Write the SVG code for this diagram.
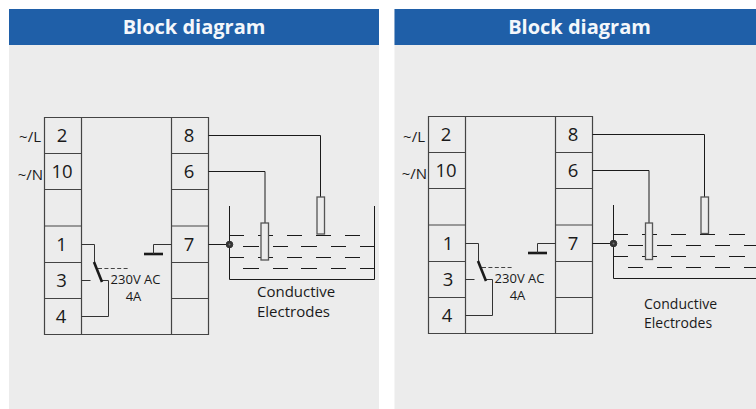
<svg xmlns="http://www.w3.org/2000/svg" xmlns:xlink="http://www.w3.org/1999/xlink" width="756" height="409" viewBox="0 0 756 409">
<style>
text{font-family:"Open Sans","Noto Sans","Liberation Sans",sans-serif;fill:#1a1a1a}
.panel{fill:#ececec}
.head{fill:#1f5fa8}
.title{font-size:20px;font-weight:700;fill:#f4f7fb;text-anchor:middle}
.num{font-size:18.500px;text-anchor:middle}
.lab{font-size:15px;text-anchor:end}
.small{font-size:13px;text-anchor:middle}
.cap{font-size:15px}
.cap2{font-size:14px}
.box{fill:none;stroke:#444;stroke-width:1.2}
.l{fill:none;stroke:#1a1a1a;stroke-width:1}
.g{fill:none;stroke:#333;stroke-width:1}
.th{fill:none;stroke:#1a1a1a;stroke-width:2.600}
.d{fill:none;stroke:#444;stroke-width:1;stroke-dasharray:4 2.400}
.e{fill:#ececec;stroke:#555;stroke-width:1.300}
.n{fill:#333;stroke:#333;stroke-width:1}
.c{fill:#777}
</style>
<defs>
<g id="base">
<path class="box" d="M44.500 117.500H208.500V334.500H44.500ZM81.500 117.500V334.500M171.500 117.500V334.500"/>
<path class="box" d="M44.500 153.500H81.500M44.500 189.500H81.500M44.500 226H81.500M44.500 262.500H81.500M44.500 298.500H81.500M171.500 153.500H208.500M171.500 189.500H208.500M171.500 226H208.500M171.500 262.500H208.500M171.500 298.500H208.500"/>
<text class="num" x="189" y="142">8</text>
<text class="num" x="189" y="178">6</text>
<text class="num" x="189" y="251">7</text>
<text class="small" x="135.500" y="284">230V AC</text>
<text class="small" x="133.500" y="301">4A</text>
<path class="g" d="M81.500 244.500H94.500V262M81.500 280.500H90.500M102 280.500H108.500V316.500H81.500"/>
<path class="th" d="M94 262L102 282"/>
<path class="d" d="M98 268.500H128"/>
<path class="th" d="M144 254H163"/>
<path class="g" d="M153.500 254V244.500H171.500"/>
</g>
</defs>
<rect class="panel" x="9" y="9" width="370" height="400"/>
<rect class="head" x="9" y="9" width="370" height="36"/>
<text class="title" x="194" y="34">Block diagram</text>
<rect class="panel" x="394.500" y="9" width="361.500" height="400"/>
<rect class="head" x="394.500" y="9" width="361.500" height="36"/>
<text class="title" x="579.500" y="34">Block diagram</text>

<g id="left-device"><use xlink:href="#base" href="#base"/>
<text class="num" x="62" y="142">2</text>
<text class="num" x="62" y="178">10</text>
<text class="num" x="61.500" y="251">1</text>
<text class="num" x="61.500" y="287">3</text>
<text class="num" x="61" y="323">4</text>
<text class="lab" x="41" y="142">~/L</text>
<text class="lab" x="43" y="180">~/N</text>
</g>
<g id="right-device"><use xlink:href="#base" href="#base" x="384" y="-1"/>
<text class="num" x="446" y="141">2</text>
<text class="num" x="446" y="177">10</text>
<text class="num" x="448" y="250">1</text>
<text class="num" x="448" y="286">3</text>
<text class="num" x="447" y="322">4</text>
<text class="lab" x="425" y="142">~/L</text>
<text class="lab" x="427" y="179">~/N</text>
</g>

<g id="connectors-left">
<path class="l" d="M208.500 135.500H320.500V197M208.500 171.500H265V223M208.500 244.500H229M229.500 206V279.500H374.500V206"/>
<path class="l" d="M229 235.500H244M258 235.500H273M287 235.500H302M316 235.500H331M345 235.500H360M243 246.500H259M273 246.500H288M301 246.500H317M331 246.500H346M360 246.500H374M229 257.500H244M258 257.500H273M287 257.500H302M316 257.500H331M345 257.500H360M243 268.500H259M273 268.500H288M301 268.500H317M331 268.500H346M360 268.500H374"/>
</g>
<g id="electrodes-left">
<rect class="e" x="261" y="223" width="7.500" height="37"/>
<rect class="e" x="317" y="197" width="7.500" height="37"/>
<circle class="n" cx="229.500" cy="244.500" r="3.300"/>
<circle class="c" cx="229.500" cy="244.500" r="1"/>
<text class="cap" x="257" y="297">Conductive</text>
<text class="cap" x="257" y="317">Electrodes</text>
</g>

<g id="connectors-right">
<path class="l" d="M592.500 134.500H704.500V197M592.500 170.500H649V223M592.500 243.500H613.500M613.500 205V278.500H756"/>
<path class="l" d="M613.500 234.500H628M642 234.500H657M671 234.500H686M700 234.500H715M729 234.500H745M628 245.500H643M657 245.500H672M686 245.500H701M715 245.500H730M744 245.500H756M613.500 256.500H628M642 256.500H657M671 256.500H686M700 256.500H715M729 256.500H745M628 267.500H643M657 267.500H672M686 267.500H701M715 267.500H730M744 267.500H756"/>
</g>
<g id="electrodes-right">
<rect class="e" x="645.500" y="223" width="7" height="36.500"/>
<rect class="e" x="701" y="197" width="7.500" height="36.500"/>
<circle class="n" cx="613.500" cy="243.500" r="3.300"/>
<circle class="c" cx="613.500" cy="243.500" r="1"/>
<text class="cap2" x="644" y="309">Conductive</text>
<text class="cap2" x="644" y="328">Electrodes</text>
</g>
</svg>
